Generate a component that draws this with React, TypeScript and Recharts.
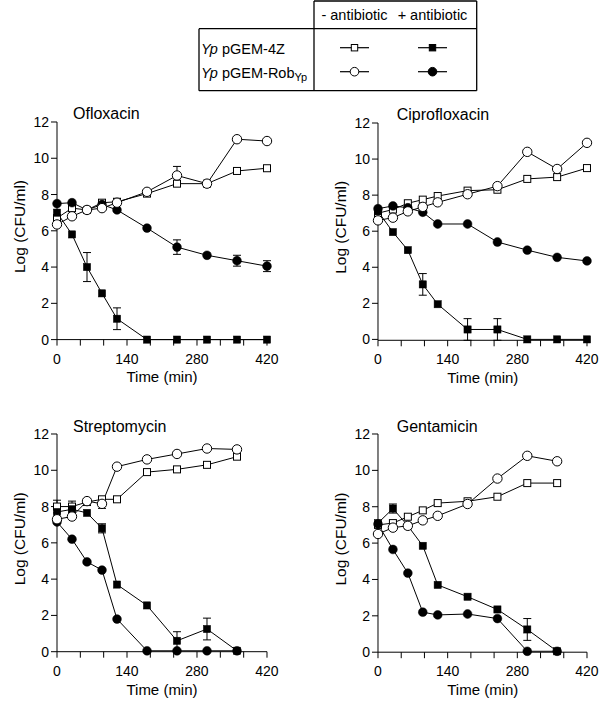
import React from 'react';
import { LineChart, Line, XAxis, YAxis, ErrorBar } from 'recharts';

const FONT = '"Liberation Sans", Arial, Helvetica, sans-serif';

const times = [0, 30, 60, 90, 120, 180, 240, 300, 360, 420];
const timesShort = [0, 30, 60, 90, 120, 180, 240, 300, 360];

const xTicks = [0, 46.67, 93.33, 140, 186.67, 233.33, 280, 326.67, 373.33, 420];
const xTickLabels = ['0', '140', '280', '420'];
const yTicks = [0, 2, 4, 6, 8, 10, 12];

const panelTitles = ['Ofloxacin', 'Ciprofloxacin', 'Streptomycin', 'Gentamicin'];
const headerLabels = ['- antibiotic', '+ antibiotic'];
const strainLabels = ['pGEM-4Z', 'pGEM-Rob'];

// Ofloxacin
const ofloVec = [6.7, 7.25, 7.15, 7.55, 7.6, 8.05, 8.6, 8.6, 9.3, 9.45];
const ofloRob = [6.35, 6.8, 7.15, 7.25, 7.55, 8.15, 9.05, 8.6, 11.05, 10.95];
const ofloVecAb = [7.0, 5.8, 4.0, 2.55, 1.15, 0, 0, 0, 0, 0];
const ofloRobAb = [7.5, 7.55, 7.15, 7.45, 7.15, 6.15, 5.1, 4.65, 4.35, 4.05];
const ofloVecErr = [0, 0, 0, 0, 0, 0, 0, 0, 0, 0.1];
const ofloRobErr = [0, 0, 0, 0, 0, 0, 0.5, 0, 0, 0];
const ofloVecAbErr = [0, 0, 0.8, 0, 0.6, 0, 0, 0, 0, 0];
const ofloRobAbErr = [0, 0, 0, 0, 0, 0, 0.4, 0, 0.3, 0.3];

// Ciprofloxacin
const ciproVec = [7.0, 7.2, 7.55, 7.75, 7.95, 8.25, 8.3, 8.9, 9.0, 9.5];
const ciproRob = [6.6, 6.75, 7.1, 7.35, 7.6, 8.05, 8.5, 10.4, 9.45, 10.9];
const ciproVecAb = [7.1, 5.95, 4.95, 3.05, 1.95, 0.55, 0.55, 0, 0, 0];
const ciproRobAb = [7.25, 7.4, 7.3, 7.05, 6.4, 6.4, 5.4, 4.95, 4.55, 4.35];
const ciproVecErr = [0, 0, 0, 0, 0, 0, 0, 0, 0, 0];
const ciproRobErr = [0, 0, 0, 0, 0, 0, 0, 0, 0, 0];
const ciproVecAbErr = [0, 0, 0, 0.6, 0, 0.6, 0.6, 0, 0, 0];
const ciproRobAbErr = [0, 0, 0, 0, 0, 0, 0, 0, 0, 0];

// Streptomycin
const streptoVec = [8.0, 8.0, 8.25, 8.4, 8.4, 9.9, 10.05, 10.3, 10.75];
const streptoRob = [7.3, 7.45, 8.3, 8.15, 10.2, 10.6, 10.9, 11.2, 11.15];
const streptoVecAb = [7.7, 7.85, 7.65, 6.8, 3.7, 2.55, 0.6, 1.25, 0.05];
const streptoRobAb = [7.15, 6.2, 4.95, 4.5, 1.8, 0.05, 0.05, 0.05, 0.05];
const streptoVecErr = [0.35, 0.3, 0, 0, 0, 0, 0, 0, 0];
const streptoRobErr = [0, 0, 0, 0.25, 0, 0, 0, 0, 0];
const streptoVecAbErr = [0, 0, 0, 0.25, 0, 0, 0.5, 0.6, 0];
const streptoRobAbErr = [0, 0, 0, 0, 0, 0, 0, 0, 0];

// Gentamicin
const gentaVec = [7.0, 7.1, 7.45, 7.8, 8.2, 8.3, 8.55, 9.3, 9.3];
const gentaRob = [6.5, 6.85, 6.95, 7.25, 7.5, 8.15, 9.55, 10.8, 10.5];
const gentaVecAb = [7.1, 7.9, 6.95, 5.85, 3.7, 3.05, 2.35, 1.25, 0.05];
const gentaRobAb = [7.05, 5.65, 4.35, 2.2, 2.05, 2.1, 1.85, 0.05, 0.05];
const gentaVecErr = [0, 0, 0, 0, 0, 0, 0, 0, 0];
const gentaRobErr = [0, 0, 0, 0, 0, 0, 0, 0, 0];
const gentaVecAbErr = [0, 0.25, 0, 0, 0, 0, 0, 0.6, 0];
const gentaRobAbErr = [0, 0, 0, 0, 0, 0, 0, 0, 0];

type PanelDef = {
  title: string;
  t: number[];
  series: number[][];
  errs: number[][];
  plotLeft: number;
  plotTop: number;
  plotW: number;
  plotH: number;
  titleDx: number;
};

const panels: PanelDef[] = [
  {
    title: panelTitles[0], t: times,
    series: [ofloVec, ofloRob, ofloVecAb, ofloRobAb],
    errs: [ofloVecErr, ofloRobErr, ofloVecAbErr, ofloRobAbErr],
    plotLeft: 57, plotTop: 121.7, plotW: 210, plotH: 217.6, titleDx: 16,
  },
  {
    title: panelTitles[1], t: times,
    series: [ciproVec, ciproRob, ciproVecAb, ciproRobAb],
    errs: [ciproVecErr, ciproRobErr, ciproVecAbErr, ciproRobAbErr],
    plotLeft: 378.3, plotTop: 122.7, plotW: 209, plotH: 217.3, titleDx: 18.4,
  },
  {
    title: panelTitles[2], t: timesShort,
    series: [streptoVec, streptoRob, streptoVecAb, streptoRobAb],
    errs: [streptoVecErr, streptoRobErr, streptoVecAbErr, streptoRobAbErr],
    plotLeft: 57, plotTop: 434, plotW: 210, plotH: 217.7, titleDx: 16,
  },
  {
    title: panelTitles[3], t: timesShort,
    series: [gentaVec, gentaRob, gentaVecAb, gentaRobAb],
    errs: [gentaVecErr, gentaRobErr, gentaVecAbErr, gentaRobAbErr],
    plotLeft: 378.3, plotTop: 434, plotW: 209, plotH: 218.2, titleDx: 18.4,
  },
];

const keyOf = (p: any, tag: string) => `${tag}-${p.index}`;

const OpenSquare = (p: any) =>
  p.cx == null || p.cy == null ? <g key={keyOf(p, 'os')} /> : (
    <rect key={keyOf(p, 'os')} x={p.cx - 3.5} y={p.cy - 3.5} width={7} height={7} fill="#fff" stroke="#000" strokeWidth={1} />
  );
const FilledSquare = (p: any) =>
  p.cx == null || p.cy == null ? <g key={keyOf(p, 'fs')} /> : (
    <rect key={keyOf(p, 'fs')} x={p.cx - 3.6} y={p.cy - 3.6} width={7.2} height={7.2} fill="#000" stroke="#000" strokeWidth={0.5} />
  );
const OpenCircle = (p: any) =>
  p.cx == null || p.cy == null ? <g key={keyOf(p, 'oc')} /> : (
    <circle key={keyOf(p, 'oc')} cx={p.cx} cy={p.cy} r={4.7} fill="#fff" stroke="#000" strokeWidth={1} />
  );
const FilledCircle = (p: any) =>
  p.cx == null || p.cy == null ? <g key={keyOf(p, 'fc')} /> : (
    <circle key={keyOf(p, 'fc')} cx={p.cx} cy={p.cy} r={4.4} fill="#000" stroke="#000" strokeWidth={0.5} />
  );

const seriesKeys = ['vec', 'rob', 'vecAb', 'robAb'];
const seriesDots = [OpenSquare, OpenCircle, FilledSquare, FilledCircle];
const drawOrder = [0, 2, 3, 1];

const xFmt = (v: number) => {
  const idx = [0, 140, 280, 420].indexOf(Math.round(v));
  return idx >= 0 ? xTickLabels[idx] : '';
};

const Panel = ({ def }: { def: PanelDef }) => {
  const data = def.t.map((t, i) => {
    const row: any = { t };
    seriesKeys.forEach((k, s) => {
      row[k] = def.series[s][i];
      row[k + 'Err'] = def.errs[s][i];
    });
    return row;
  });
  const mTop = 22;
  const yW = 57;
  const xH = 30;
  const left = def.plotLeft - yW;
  const top = def.plotTop - mTop;
  const right = Math.min(20, 599 - (def.plotLeft + def.plotW));
  const width = yW + def.plotW + right;
  const height = mTop + def.plotH + xH;
  const tickStyle = { fill: '#000', fontSize: 14, fontFamily: FONT };
  return (
    <div style={{ position: 'absolute', left, top, width, height }}>
      <LineChart width={width} height={height} data={data} margin={{ top: mTop, right, bottom: 0, left: 0 }}>
        <XAxis
          dataKey="t" type="number" domain={[0, 420]} ticks={xTicks} interval={0}
          tickFormatter={xFmt} tickSize={6} tickMargin={8} height={xH}
          stroke="#000" tick={tickStyle} tickLine={{ stroke: '#000' }} axisLine={{ stroke: '#000' }}
        />
        <YAxis
          type="number" domain={[0, 12]} ticks={yTicks} interval={0} width={yW}
          tickSize={6} tickMargin={2} stroke="#000" tick={tickStyle}
          tickLine={{ stroke: '#000' }} axisLine={{ stroke: '#000' }}
        />
        {drawOrder.map((s) => (
          <Line
            key={seriesKeys[s]}
            dataKey={seriesKeys[s]}
            type="linear"
            stroke="#000"
            strokeWidth={1}
            dot={seriesDots[s]}
            activeDot={false}
            isAnimationActive={false}
          >
            <ErrorBar dataKey={seriesKeys[s] + 'Err'} width={4} stroke="#000" strokeWidth={1} direction="y" />
          </Line>
        ))}
      </LineChart>
    </div>
  );
};

const Overlay = () => {
  const tx = { fontFamily: FONT, fill: '#000' } as const;
  const colX = [354.5, 432.5];
  const rowY = [47.7, 71.7];
  return (
    <svg width={600} height={712} style={{ position: 'absolute', left: 0, top: 0, pointerEvents: 'none' }}>
      {/* legend table */}
      <g stroke="#000" strokeWidth={1.3} fill="none">
        <line x1={314} y1={1} x2={476.7} y2={1} />
        <line x1={199} y1={28.7} x2={476.7} y2={28.7} />
        <line x1={199} y1={90.7} x2={476.7} y2={90.7} />
        <line x1={199} y1={28.7} x2={199} y2={90.7} />
        <line x1={314} y1={1} x2={314} y2={90.7} />
        <line x1={476.7} y1={1} x2={476.7} y2={90.7} />
      </g>
      {headerLabels.map((h, i) => (
        <text key={h} x={colX[i]} y={19.7} textAnchor="middle" fontSize={14.5} {...tx}>{h}</text>
      ))}
      <text x={201} y={53.5} fontSize={14.5} {...tx}>
        <tspan fontStyle="italic" fill="#000">Yp</tspan>
        <tspan fill="#000">{' ' + strainLabels[0]}</tspan>
      </text>
      <text x={201} y={77.5} fontSize={14.5} {...tx}>
        <tspan fontStyle="italic" fill="#000">Yp</tspan>
        <tspan fill="#000">{' ' + strainLabels[1]}</tspan>
        <tspan fontSize={11} dy={3} fill="#000">Yp</tspan>
      </text>
      {rowY.map((y, r) =>
        colX.map((x, c) => (
          <g key={`${r}-${c}`}>
            <line x1={x - 14.5} y1={y} x2={x + 14.5} y2={y} stroke="#000" strokeWidth={1.2} />
            {r === 0 ? (
              <rect x={x - 3.2} y={y - 3.2} width={6.4} height={6.4} fill={c === 0 ? '#fff' : '#000'} stroke="#000" strokeWidth={1} />
            ) : (
              <circle cx={x} cy={y} r={4.3} fill={c === 0 ? '#fff' : '#000'} stroke="#000" strokeWidth={1} />
            )}
          </g>
        ))
      )}
      {/* panel titles and axis labels */}
      {panels.map((p) => (
        <g key={p.title}>
          <text x={p.plotLeft + p.titleDx} y={p.plotTop - 2.3} fontSize={16} {...tx}>{p.title}</text>
          <text
            x={p.plotLeft + p.plotW / 2} y={p.plotTop + p.plotH + 43}
            textAnchor="middle" fontSize={15} {...tx}
          >Time (min)</text>
          <text
            transform={`translate(${p.plotLeft - 37.5}, ${p.plotTop + p.plotH / 2 - 4}) rotate(-90)`}
            textAnchor="middle" dominantBaseline="central" fontSize={15.5} {...tx}
          >Log (CFU/ml)</text>
        </g>
      ))}
    </svg>
  );
};

export default function App() {
  return (
    <div style={{ position: 'absolute', left: 0, top: 0, width: 600, height: 712, overflow: 'hidden', background: '#fff' }}>
      {panels.map((p) => (
        <Panel key={p.title} def={p} />
      ))}
      <Overlay />
    </div>
  );
}
